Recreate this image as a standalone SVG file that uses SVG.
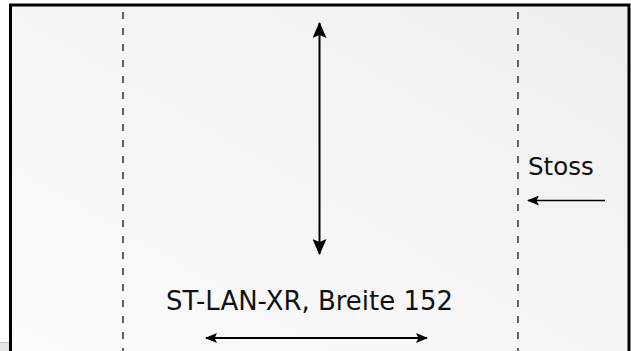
<svg xmlns="http://www.w3.org/2000/svg" width="631" height="351" viewBox="0 0 631 351">
  <style>
    .lbl { font-family: "DejaVu Sans", Verdana, sans-serif; fill: #111; }
    .dash { stroke: #111; stroke-width: 1.3; stroke-dasharray: 7 9; fill: none; }
    .conn { stroke: #000; fill: none; }
  </style>
  <defs>
    <linearGradient id="bg" x1="1" y1="0" x2="0" y2="1">
      <stop offset="0" stop-color="#efefef"/>
      <stop offset="1" stop-color="#fcfcfc"/>
    </linearGradient>
    <marker id="ahBig" viewBox="0 0 16 14" refX="15" refY="7" markerWidth="16" markerHeight="14" markerUnits="userSpaceOnUse" orient="auto-start-reverse">
      <path d="M0,0 L16,7 L0,14 L3,7 Z" fill="#000"/>
    </marker>
    <marker id="ahSmall" viewBox="0 0 12 10" refX="11" refY="5" markerWidth="12" markerHeight="10" markerUnits="userSpaceOnUse" orient="auto-start-reverse">
      <path d="M0,0 L12,5 L0,10 L2.5,5 Z" fill="#000"/>
    </marker>
  </defs>
  <rect x="0" y="0" width="631" height="351" fill="#ffffff"/>
  <rect x="0" y="342" width="10" height="9" fill="#e4e4e4"/>
  <line x1="0" y1="342.5" x2="10" y2="342.5" stroke="#c4c4c4" stroke-width="1"/>
  <g id="frame">
    <rect x="10.5" y="5" width="618.5" height="360" fill="url(#bg)" stroke="#000" stroke-width="3"/>
  </g>
  <g id="guides">
    <line class="dash" x1="123" y1="12" x2="123" y2="351"/>
    <line class="dash" x1="518" y1="12" x2="518" y2="351"/>
  </g>
  <g id="connectors">
    <line class="conn" x1="319.5" y1="23" x2="319.5" y2="254" stroke-width="2" marker-start="url(#ahBig)" marker-end="url(#ahBig)"/>
    <line class="conn" x1="206" y1="338" x2="427" y2="338" stroke-width="2" marker-start="url(#ahSmall)" marker-end="url(#ahSmall)"/>
    <line class="conn" x1="605" y1="200.5" x2="528" y2="200.5" stroke-width="1.6" marker-end="url(#ahSmall)"/>
  </g>
  <g id="label-breite">
    <text class="lbl" x="166" y="310" font-size="26" textLength="287" lengthAdjust="spacingAndGlyphs">ST-LAN-XR, Breite 152</text>
  </g>
  <g id="label-stoss">
    <text class="lbl" x="528" y="175" font-size="24.5">Stoss</text>
  </g>
</svg>
